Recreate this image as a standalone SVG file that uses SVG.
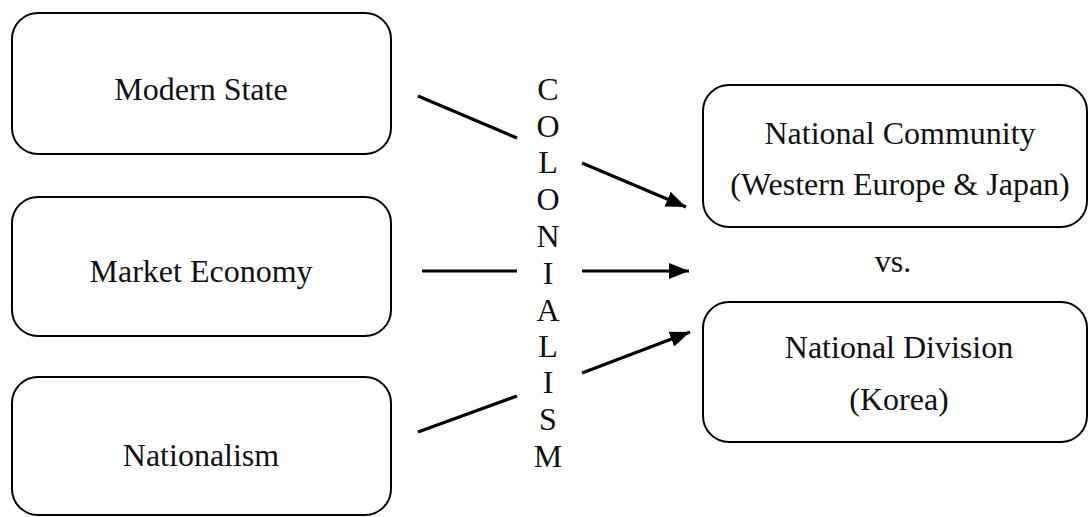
<svg xmlns="http://www.w3.org/2000/svg" width="1089" height="517" viewBox="0 0 1089 517">
<style>
.box{fill:#fff;stroke:#000;stroke-width:2}
.t{font-family:'Liberation Serif','Times New Roman','DejaVu Serif',serif;font-size:32px;fill:#111;text-anchor:middle}
.ln{stroke:#000;stroke-width:3.2;fill:none}
</style>
<defs>
<marker id="ah" markerUnits="userSpaceOnUse" markerWidth="22" markerHeight="16" refX="20" refY="8" orient="auto">
<path d="M0,0 L20,8 L0,16 Z" fill="#000"/>
</marker>
</defs>
<rect width="1089" height="517" fill="#fff"/>
<g id="modern-state"><rect class="box" x="12" y="13" width="379" height="141" rx="26"/><text class="t" x="201" y="100">Modern State</text></g>
<g id="market-economy"><rect class="box" x="12" y="197" width="379" height="139" rx="26"/><text class="t" x="201" y="282">Market Economy</text></g>
<g id="nationalism"><rect class="box" x="12" y="377" width="379" height="138" rx="26"/><text class="t" x="201" y="466">Nationalism</text></g>
<g id="national-community"><rect class="box" x="703" y="85" width="384" height="142" rx="26"/><text class="t" x="900" y="144">National Community</text><text class="t" x="900" y="195">(Western Europe &amp; Japan)</text></g>
<g id="vs"><text class="t" x="893" y="272">vs.</text></g>
<g id="national-division"><rect class="box" x="703" y="302" width="384" height="140" rx="26"/><text class="t" x="899" y="358">National Division</text><text class="t" x="899" y="410">(Korea)</text></g>
<g id="colonialism">
<text class="t" x="548" y="100">C</text><text class="t" x="548" y="137">O</text><text class="t" x="548" y="173">L</text><text class="t" x="548" y="210">O</text><text class="t" x="548" y="247">N</text><text class="t" x="548" y="284">I</text><text class="t" x="548" y="321">A</text><text class="t" x="548" y="357">L</text><text class="t" x="548" y="393">I</text><text class="t" x="548" y="430">S</text><text class="t" x="548" y="467">M</text>
</g>
<g id="connectors">
<line class="ln" x1="418" y1="96" x2="517" y2="138"/>
<line class="ln" x1="582" y1="163" x2="686" y2="207" marker-end="url(#ah)"/>
<line class="ln" x1="422" y1="271" x2="517" y2="271"/>
<line class="ln" x1="582" y1="271" x2="689" y2="271" marker-end="url(#ah)"/>
<line class="ln" x1="418" y1="432" x2="517" y2="396"/>
<line class="ln" x1="582" y1="373" x2="690" y2="332" marker-end="url(#ah)"/>
</g>
</svg>
